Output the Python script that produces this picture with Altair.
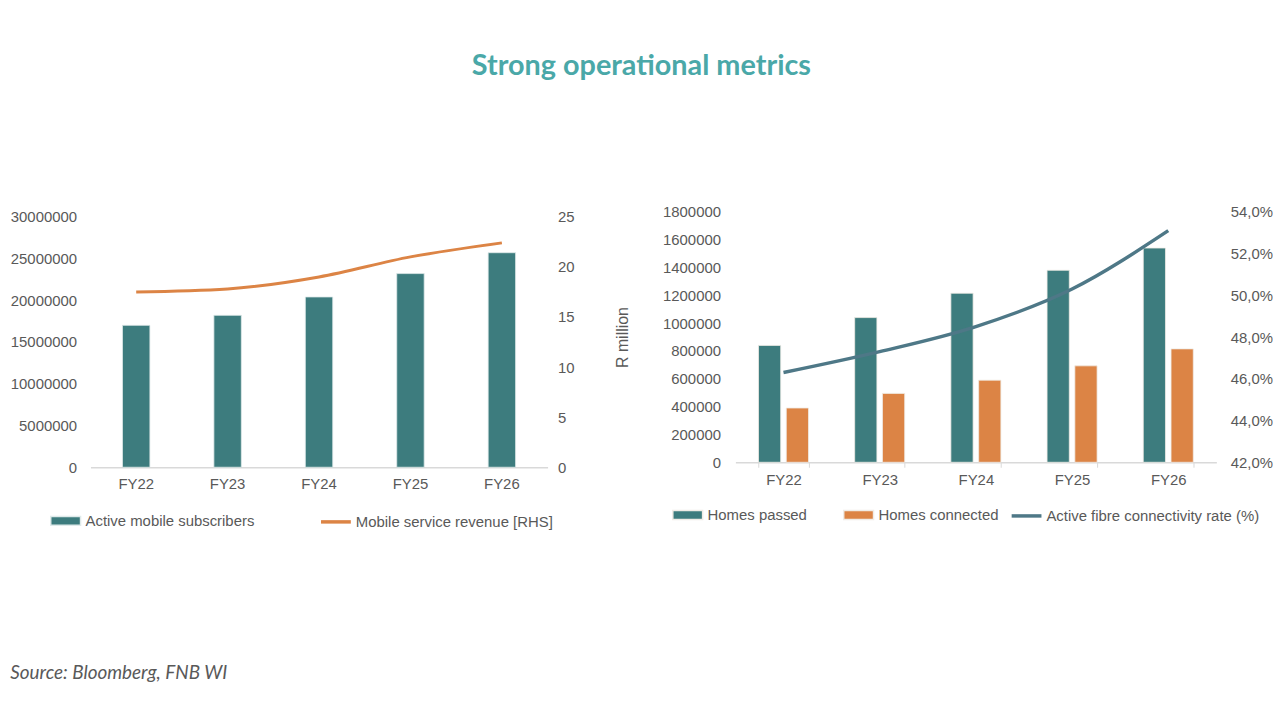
import altair as alt
import pandas as pd

# Data
years = ["FY22", "FY23", "FY24", "FY25", "FY26"]

# left panel
mobile_subs = [17000000, 18200000, 20400000, 23200000, 25700000]
mobile_revenue = [17.5, 17.8, 19.0, 21.0, 22.4]
subs_ticks = [0, 5000000, 10000000, 15000000, 20000000, 25000000, 30000000]
revenue_ticks = [0, 5, 10, 15, 20, 25]

# right panel
homes_passed = [840000, 1040000, 1215000, 1380000, 1540000]
homes_connected = [390000, 495000, 590000, 693000, 815000]
fibre_rate = [46.3, 47.3, 48.5, 50.3, 53.1]
homes_ticks = [0, 200000, 400000, 600000, 800000, 1000000, 1200000, 1400000, 1600000, 1800000]
rate_ticks = [42, 44, 46, 48, 50, 52, 54]
home_series = ["Homes passed", "Homes connected"]

# Styling
TEAL = "#3d7c7e"
ORANGE = "#dc8445"
SLATE = "#4e7887"
GREY = "#595959"
LINE_GREY = "#d9d9d9"
FONT = "Liberation Sans"
HEAD_FONT = "Lato"
SWATCH = "M-1,-0.3H1V0.3H-1Z"

# left plot sits a little lower than the right one: stretch its height
# and domain by the same factor so the ticks keep their spacing
PLOT_H = 252
LEFT_EXTRA = 5
left_stretch = (PLOT_H + LEFT_EXTRA) / PLOT_H


# region Left panel

subs_df = pd.DataFrame(
    {"year": years, "value": mobile_subs, "series": "Active mobile subscribers"}
)
rev_df = pd.DataFrame(
    {"year": years, "value": mobile_revenue, "series": "Mobile service revenue [RHS]"}
)

left_x = alt.X(
    "year:N",
    sort=years,
    title=None,
    scale=alt.Scale(paddingInner=0.7, paddingOuter=0.35),
    axis=alt.Axis(
        labelAngle=0,
        ticks=False,
        tickSize=0,
        labelPadding=9,
        domainColor=LINE_GREY,
        domainWidth=1.5,
    ),
)

left_bars = (
    alt.Chart(subs_df)
    .mark_bar(stroke="#dfeaea", strokeWidth=0.8)
    .encode(
        x=left_x,
        y=alt.Y(
            "value:Q",
            title=None,
            scale=alt.Scale(domain=[0, subs_ticks[-1] * left_stretch], nice=False),
            axis=alt.Axis(
                values=subs_ticks, format="d", labelPadding=14, domain=False, ticks=False
            ),
        ),
        fill=alt.Fill(
            "series:N",
            scale=alt.Scale(range=[TEAL]),
            legend=alt.Legend(
                title=None,
                orient="none",
                legendX=-41,
                legendY=295,
                symbolType=SWATCH,
                symbolSize=900,
                labelOffset=4,
                labelLimit=400,
            ),
        ),
    )
)

left_line = (
    alt.Chart(rev_df)
    .mark_line(strokeWidth=3, interpolate="monotone")
    .encode(
        x=alt.X("year:N", sort=years),
        y=alt.Y(
            "value:Q",
            title=None,
            scale=alt.Scale(domain=[0, revenue_ticks[-1] * left_stretch], nice=False),
            axis=alt.Axis(
                orient="right",
                values=revenue_ticks,
                labelPadding=10,
                domain=False,
                ticks=False,
            ),
        ),
        stroke=alt.Stroke(
            "series:N",
            scale=alt.Scale(range=[ORANGE]),
            legend=alt.Legend(
                title=None,
                orient="none",
                legendX=230,
                legendY=295,
                symbolType="stroke",
                symbolSize=900,
                symbolStrokeWidth=3.5,
                labelOffset=3,
                labelLimit=400,
            ),
        ),
    )
)

left = (
    alt.layer(left_bars, left_line)
    .resolve_scale(y="independent")
    .properties(width=460, height=PLOT_H + LEFT_EXTRA)
)

# endregion Left panel


# region Right panel

homes_df = pd.DataFrame(
    {
        "year": years * 2,
        "series": [home_series[0]] * 5 + [home_series[1]] * 5,
        "value": homes_passed + homes_connected,
    }
)
rate_df = pd.DataFrame(
    {"year": years, "value": fibre_rate, "series": "Active fibre connectivity rate (%)"}
)

right_x = alt.X(
    "year:N",
    sort=years,
    title=None,
    scale=alt.Scale(paddingInner=0.48, paddingOuter=0.24),
    axis=alt.Axis(
        labelAngle=0,
        tickBand="extent",
        tickSize=5,
        tickColor=LINE_GREY,
        labelPadding=5,
        domainColor=LINE_GREY,
        domainWidth=1.5,
    ),
)

right_bars = (
    alt.Chart(homes_df)
    .mark_bar(stroke="#f0ece6", strokeWidth=0.8)
    .encode(
        x=right_x,
        xOffset=alt.XOffset(
            "series:N", sort=home_series, scale=alt.Scale(paddingInner=0.2)
        ),
        y=alt.Y(
            "value:Q",
            title="R million",
            scale=alt.Scale(domain=[0, 1800000]),
            axis=alt.Axis(
                values=homes_ticks,
                format="d",
                labelPadding=15,
                titlePadding=32,
                domain=False,
                ticks=False,
            ),
        ),
        fill=alt.Fill(
            "series:N",
            scale=alt.Scale(domain=home_series, range=[TEAL, ORANGE]),
            legend=alt.Legend(
                title=None,
                orient="none",
                direction="horizontal",
                legendX=-64,
                legendY=289,
                symbolType=SWATCH,
                symbolSize=900,
                labelOffset=4,
                columnPadding=33,
                labelLimit=400,
            ),
        ),
    )
)

right_line = (
    alt.Chart(rate_df)
    .mark_line(strokeWidth=3.5, interpolate="monotone")
    .encode(
        x=alt.X("year:N", sort=years),
        y=alt.Y(
            "value:Q",
            title=None,
            scale=alt.Scale(domain=[42, 54]),
            axis=alt.Axis(
                orient="right",
                values=rate_ticks,
                labelExpr="replace(format(datum.value, '.1f'), '.', ',') + '%'",
                labelPadding=14,
                domain=False,
                ticks=False,
            ),
        ),
        stroke=alt.Stroke(
            "series:N",
            scale=alt.Scale(range=[SLATE]),
            legend=alt.Legend(
                title=None,
                orient="none",
                legendX=276,
                legendY=289,
                symbolType="stroke",
                symbolSize=900,
                symbolStrokeWidth=3.5,
                labelOffset=3,
                labelLimit=400,
            ),
        ),
    )
)

right = (
    alt.layer(right_bars, right_line)
    .resolve_scale(y="independent")
    .properties(width=484, height=PLOT_H)
)

# endregion Right panel


source_title = alt.TitleParams(
    "Source: Bloomberg, FNB WI",
    orient="bottom",
    anchor="start",
    font=HEAD_FONT,
    fontSize=19,
    fontStyle="italic",
    fontWeight="normal",
    color=GREY,
    offset=135,
)

panels = alt.hconcat(left, right, spacing=40, title=source_title).resolve_scale(
    fill="independent", stroke="independent"
)

chart = (
    alt.vconcat(
        panels,
        title=alt.TitleParams(
            "Strong operational metrics",
            anchor="middle",
            font=HEAD_FONT,
            fontSize=29,
            fontWeight="bold",
            color="#4aa8a8",
            offset=125,
        ),
    )
    .properties(padding={"left": 2, "top": 42, "right": 0, "bottom": 0})
    .configure_view(strokeWidth=0)
    .configure_axis(
        labelFont=FONT,
        labelFontSize=15,
        labelColor=GREY,
        grid=False,
        titleFont=FONT,
        titleFontSize=16,
        titleFontWeight="normal",
        titleColor=GREY,
    )
    .configure_legend(labelFont=FONT, labelFontSize=15, labelColor=GREY)
)

chart.save("out.html", embed_options={"renderer": "svg", "actions": False})
